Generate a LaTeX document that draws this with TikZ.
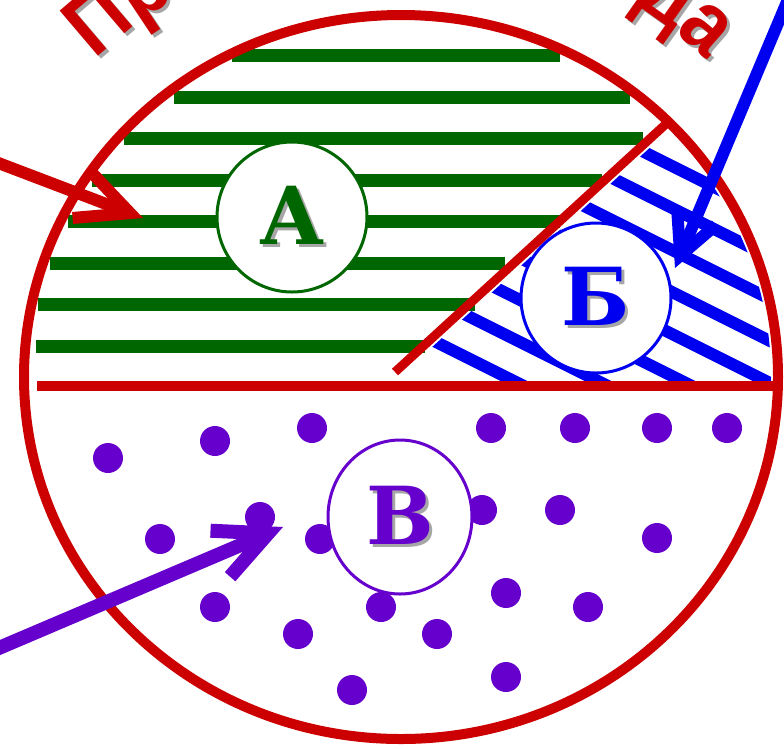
\documentclass[tikz,border=0pt]{standalone}
\usepackage{fontspec}
\usepackage{tikz}
\usetikzlibrary{arrows.meta,shapes.geometric,decorations.text}
\newfontfamily\lettfont{DejaVu Serif}
\newfontfamily\arcfont[FakeStretch=0.9]{Liberation Sans}
\definecolor{envred}{RGB}{204,0,0}
\definecolor{zgreen}{RGB}{0,102,0}
\definecolor{zblue}{RGB}{0,0,240}
\definecolor{zviolet}{RGB}{102,0,204}
\newcommand\shadowed[2]{\makebox[0pt][l]{\hspace{3pt}\raisebox{-3pt}{\textcolor{black!35}{#2}}}\textcolor{#1}{#2}}
\begin{document}
\begin{tikzpicture}[x=1pt,y=-1pt,
  zone/.style={draw=#1,line width=3pt,fill=white,circle,minimum size=150pt,inner sep=0pt,font=\lettfont\bfseries\fontsize{80}{80}\selectfont},
  hatch/.style={line width=12pt},
  pointer/.style={draw=#1,line width=12pt,-{Straight Barb[length=52pt,width=50pt]}}]
\useasboundingbox (0,0) rectangle (784,748);
\foreach \y/\xa/\xb in {55/232/560,97/174/630,138/124/643,180/92/602,221/68/560,263/50/505,304/38/475,346/36/425}
  \draw[zgreen,hatch,line width=13pt] (\xa,\y) -- (\xb,\y);
\begin{scope}
\clip (401,377) ellipse [x radius=370,y radius=355];
\clip (395,381) -- (702,100) -- (800,100) -- (800,381) -- cycle;
\foreach \c in {-170,-128,-86,-44,-2,40,82,124}
  \draw[zblue,hatch] (380,190+\c) -- (800,400+\c);
\end{scope}
\foreach \x/\y in {108/458,215/441,312/428,491/428,575/428,657/428,727/428,160/539,260/517,320/539,482/510,560/510,657/538,215/607,298/634,381/607,437/634,506/593,588/607,352/690,506/677}
  \fill[zviolet] (\x,\y) circle[radius=15pt];
\node[zone=zgreen] (A) at (292,217) {\shadowed{zgreen}{А}};
\node[zone=zblue] (B) at (596,298) {\shadowed{zblue}{Б}};
\node[zone=zviolet,ellipse,minimum width=144pt,minimum height=154pt] (V) at (400,517) {\shadowed{zviolet}{В}};
\draw[envred,line width=9pt] (395,372) -- (667,123);
\draw[envred,line width=10pt] (37,386) -- (778,386);
\draw[envred,line width=10pt] (401,377) ellipse [x radius=377,y radius=362];
\coordinate (redtail) at (-20,156);\coordinate (redtip) at (143,218);
\coordinate (bluetail) at (792,-10);\coordinate (bluetip) at (675,268);
\coordinate (violettail) at (-20,656);\coordinate (violettip) at (283,527);
\draw[pointer=envred] (redtail) -- (redtip);
\draw[pointer=zblue,-{Straight Barb[length=42pt,width=42pt]}] (bluetail) -- (bluetip);
\draw[pointer=zviolet,line width=14pt] (violettail) -- (violettip);
\path[decorate,decoration={text along path,text align=center,text color=black!35,text={|\arcfont\bfseries\fontsize{86}{86}\selectfont|Природная среда}}] (404,380) ++(210:440) arc[start angle=210,end angle=330,radius=440];
\path[decorate,decoration={text along path,text align=center,text color=envred,text={|\arcfont\bfseries\fontsize{86}{86}\selectfont|Природная среда}}] (401,377) ++(210:440) arc[start angle=210,end angle=330,radius=440];
\end{tikzpicture}
\end{document}
